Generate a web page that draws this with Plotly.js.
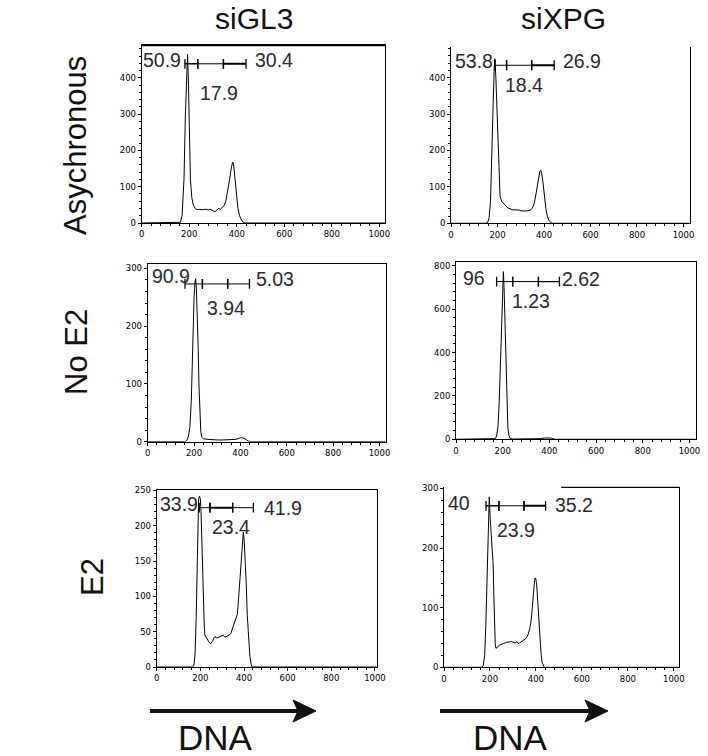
<!DOCTYPE html>
<html><head><meta charset="utf-8">
<script src="https://cdn.plot.ly/plotly-3.0.1.min.js"></script>
<style>body{margin:0;background:#fff}#chart{width:708px;height:756px}</style>
</head><body><div id="chart"></div>
<script>
// ---------- labels ----------
const columnLabels = ['siGL3', 'siXPG'];
const rowLabels = ['Asychronous', 'No E2', 'E2'];
const axisLabel = 'DNA';
const xTicks = [0, 200, 400, 600, 800, 1000];

// ---------- histogram data (channel, count) ----------
// siGL3 / Asychronous
const p1x = [0,155,163,170,178,184,189,193,197,200,205,211,217,225,232,242,252,261,271,281,290,300,308,316,323,331,339,347,354,362,370,378,383,387,393,399,405,412,420,428,436,1024];
const p1y = [0,0,2,20,120,300,440,465,380,220,120,70,50,40,37,37,36,37,38,36,38,33,31,35,40,38,42,48,60,85,120,155,168,160,120,70,40,20,8,2,0,0];
// siXPG / Asychronous
const p2x = [0,150,158,164,170,176,181,186,189,193,199,205,211,218,225,235,245,254,265,275,285,295,305,315,325,335,345,352,358,364,370,376,382,386,390,396,402,408,415,422,430,436,1024];
const p2y = [0,0,3,15,60,170,320,430,452,400,300,170,75,60,55,48,42,40,37,37,37,36,34,33,34,35,38,45,55,75,100,125,142,146,138,110,70,40,18,7,2,0,0];
// siGL3 / No E2
const p3x = [0,160,168,175,182,188,192,196,200,204,207,210,214,218,221,225,229,233,240,260,280,300,320,340,360,380,395,405,415,425,435,445,1024];
const p3y = [0,0,2,8,25,70,130,200,250,275,282,265,220,160,100,45,18,8,5,4,3,3,3,3,3,4,6,7,6,3,1,0,0];
// siXPG / No E2
const p4x = [0,160,168,174,180,185,189,193,197,200,203,206,209,212,215,218,222,226,231,240,300,360,380,395,405,415,425,1024];
const p4y = [0,0,3,15,60,170,300,450,620,730,774,700,560,400,250,130,55,20,5,1,1,3,6,7,6,3,0,0];
// siGL3 / E2
const p5x = [0,165,171,176,181,185,188,192,196,200,203,206,210,214,218,221,226,232,240,247,255,262,267,275,283,290,298,305,313,320,328,335,339,345,350,356,362,370,376,382,388,393,397,401,406,410,415,420,427,432,437,1008];
const p5y = [0,0,3,20,70,140,215,238,242,238,220,180,130,83,58,45,42,40,35,33,36,41,43,41,42,42,44,45,42,43,44,46,47,52,58,60,68,75,100,130,160,182,191,178,153,120,73,42,15,5,0,0];
// siXPG / E2
const p6x = [0,165,171,177,182,187,191,195,197,201,205,208,211,214,217,220,223,226,232,240,250,260,272,285,295,301,310,318,323,330,338,345,355,362,367,373,378,382,386,390,394,397,400,404,408,412,417,422,427,432,437,1024];
const p6y = [0,0,3,20,70,150,230,275,286,250,220,195,178,172,120,70,40,32,33,37,39,40,42,43,43,42,41,43,40,41,43,45,48,52,56,65,75,90,110,135,145,150,148,135,110,80,50,25,8,2,0,0];

// ---------- gates: boundaries (channel), level (count), percentages ----------
const gate1 = [182, 236, 344, 439], gate1Level = 439, gate1Pct = ['50.9', '17.9', '30.4'];
const gate2 = [189, 239, 347, 444], gate2Level = 434, gate2Pct = ['53.8', '18.4', '26.9'];
const gate3 = [161, 236, 345, 439], gate3Level = 273, gate3Pct = ['90.9', '3.94', '5.03'];
const gate4 = [174, 243, 353, 443], gate4Level = 728, gate4Pct = ['96', '1.23', '2.62'];
const gate5 = [195, 244, 348, 443], gate5Level = 225.5, gate5Pct = ['33.9', '23.4', '41.9'];
const gate6 = [183, 239, 348, 442], gate6Level = 271, gate6Pct = ['40', '23.9', '35.2'];

// ---------- layout config (positions & styles) ----------
const W = 708, H = 756;
const panels = [
  {x:p1x, y:p1y, g:gate1, gl:gate1Level, gp:gate1Pct, xr:1024, yr:490, dy:100, mdy:20, px:[141.7,385,45.3,223], top:'thick', right:true, gw:[1.5,1,2], lab:[[168,449],[326,359],[473,449]]},
  {x:p2x, y:p2y, g:gate2, gl:gate2Level, gp:gate2Pct, xr:1028, yr:485, dy:100, mdy:20, px:[451,690,46.7,223.3], top:'none', right:true, gw:[1,1,2], lab:[[185,446],[314,379],[479,446]]},
  {x:p3x, y:p3y, g:gate3, gl:gate3Level, gp:gate3Pct, xr:1028, yr:307, dy:100, mdy:20, px:[147.7,386,264.3,441.7], top:'full', right:true, gw:[1,1,1], lab:[[186,286],[338,232],[463,282]]},
  {x:p4x, y:p4y, g:gate4, gl:gate4Level, gp:gate4Pct, xr:1028, yr:817, dy:200, mdy:40, px:[456,696,262.3,439.3], top:'full', right:true, gw:[1,1,1.3], lab:[[129,746],[320,638],[449,740]]},
  {x:p5x, y:p5y, g:gate5, gl:gate5Level, gp:gate5Pct, xr:1008, yr:250.5, dy:50, mdy:10, px:[156.7,376.7,490,667], top:'full', right:true, gw:[1,2,1], lab:[[195,231],[340,198],[489,224.6]]},
  {x:p6x, y:p6y, g:gate6, gl:gate6Level, gp:gate6Pct, xr:1024, yr:302, dy:100, mdy:20, px:[444,679.3,487.3,667.3], top:'partial', right:true, gw:[1.5,1,2], lab:[[116,275],[314,230],[478,273]]}
];

const tickFont = {family:'DejaVu Sans, Arial, sans-serif', size:8.5, color:'#000'};
const labFont = {family:'Liberation Sans, Arial, sans-serif', size:19.5, color:'#2a2a2a'};
const bigFont = {family:'Liberation Sans, Arial, sans-serif', size:30, color:'#111'};

const traces = [];
const layout = {
  width: W, height: H, margin:{l:0,r:0,t:0,b:0},
  paper_bgcolor:'#fff', plot_bgcolor:'rgba(0,0,0,0)',
  showlegend:false, annotations:[], shapes:[]
};

panels.forEach((p, i) => {
  const n = i + 1, sfx = n === 1 ? '' : String(n);
  const xa = 'x' + sfx, ya = 'y' + sfx;
  traces.push({type:'scatter', mode:'lines', x:p.x, y:p.y, xaxis:xa, yaxis:ya,
    line:{color:'#000', width:1}, hoverinfo:'skip'});
  // gate segments
  for (let s = 0; s < 3; s++) {
    traces.push({type:'scatter', mode:'lines+markers', x:[p.g[s], p.g[s+1]], y:[p.gl, p.gl],
      xaxis:xa, yaxis:ya, line:{color:'#000', width:p.gw[s]},
      marker:{symbol:'line-ns', size:7, line:{color:'#000', width:1.3}}, hoverinfo:'skip'});
  }
  const yTicks = [];
  for (let v = 0; v <= p.yr; v += p.dy) yTicks.push(v);
  layout['xaxis' + sfx] = {
    domain:[p.px[0]/W, p.px[1]/W], range:[0, p.xr], anchor:ya,
    tickmode:'array', tickvals:xTicks, ticktext:xTicks.map(String),
    ticks:'outside', ticklen:3, tickwidth:1, tickcolor:'#000',
    minor:{ticks:'outside', ticklen:2, tickwidth:1, tickcolor:'#000', dtick:40, tick0:0, showgrid:false},
    showline:true, linecolor:'#000', linewidth:1, mirror:(p.top === 'full' || p.top === 'thick'),
    showgrid:false, zeroline:false, tickfont:tickFont, fixedrange:true
  };
  layout['yaxis' + sfx] = {
    domain:[1 - p.px[3]/H, 1 - p.px[2]/H], range:[0, p.yr], anchor:xa,
    tickmode:'array', tickvals:yTicks, ticktext:yTicks.map(String),
    ticks:'outside', ticklen:3, tickwidth:1, tickcolor:'#000',
    minor:{ticks:'outside', ticklen:2, tickwidth:1, tickcolor:'#000', dtick:p.mdy, tick0:0, showgrid:false},
    showline:true, linecolor:'#000', linewidth:1, mirror:p.right,
    showgrid:false, zeroline:false, tickfont:tickFont, fixedrange:true
  };
  if (p.top === 'thick') {
    layout.shapes.push({type:'line', xref:xa + ' domain', yref:ya + ' domain', x0:0, x1:1, y0:1, y1:1, line:{color:'#000', width:2}});
  }
  if (p.top === 'partial') {
    layout.shapes.push({type:'line', xref:xa, yref:ya + ' domain', x0:510, x1:p.xr, y0:1, y1:1, line:{color:'#000', width:1.3}});
  }
  // gate percentage labels
  layout.annotations.push({xref:xa, yref:ya, x:p.lab[0][0], y:p.lab[0][1], text:p.gp[0], showarrow:false, xanchor:'right', yanchor:'middle', font:labFont, borderpad:0});
  layout.annotations.push({xref:xa, yref:ya, x:p.lab[1][0], y:p.lab[1][1], text:p.gp[1], showarrow:false, xanchor:'center', yanchor:'middle', font:labFont, borderpad:0});
  layout.annotations.push({xref:xa, yref:ya, x:p.lab[2][0], y:p.lab[2][1], text:p.gp[2], showarrow:false, xanchor:'left', yanchor:'middle', font:labFont, borderpad:0});
});

// column headers
const colPos = [[254, 18], [563, 18]];
columnLabels.forEach((t, i) => layout.annotations.push({xref:'paper', yref:'paper', x:colPos[i][0]/W, y:1 - colPos[i][1]/H, text:t, showarrow:false, xanchor:'center', yanchor:'middle', font:bigFont}));
// row labels
const rowPos = [[75, 146], [76, 352], [92, 577]];
rowLabels.forEach((t, i) => layout.annotations.push({xref:'paper', yref:'paper', x:rowPos[i][0]/W, y:1 - rowPos[i][1]/H, text:t, textangle:-90, showarrow:false, xanchor:'center', yanchor:'middle', font:Object.assign({}, bigFont, {size:31})}));
// DNA arrows and labels
const arrows = [[150, 316, 711, 215], [440, 608, 711, 510]];
arrows.forEach(a => {
  const [x0, x1, y, lx] = a;
  layout.shapes.push({type:'line', xref:'paper', yref:'paper', x0:x0/W, x1:(x1 - 18)/W, y0:1 - y/H, y1:1 - y/H, line:{color:'#111', width:4}});
  layout.shapes.push({type:'path', xref:'paper', yref:'paper',
    path:`M ${(x1-23)/W} ${1-(y-11)/H} L ${x1/W} ${1-y/H} L ${(x1-23)/W} ${1-(y+11)/H} L ${(x1-18)/W} ${1-y/H} Z`,
    fillcolor:'#111', line:{color:'#111', width:1}});
  layout.annotations.push({xref:'paper', yref:'paper', x:lx/W, y:1 - 737/H, text:axisLabel, showarrow:false, xanchor:'center', yanchor:'middle', font:Object.assign({}, bigFont, {size:35})});
});

Plotly.newPlot('chart', traces, layout, {staticPlot:true, displayModeBar:false});
</script></body></html>
